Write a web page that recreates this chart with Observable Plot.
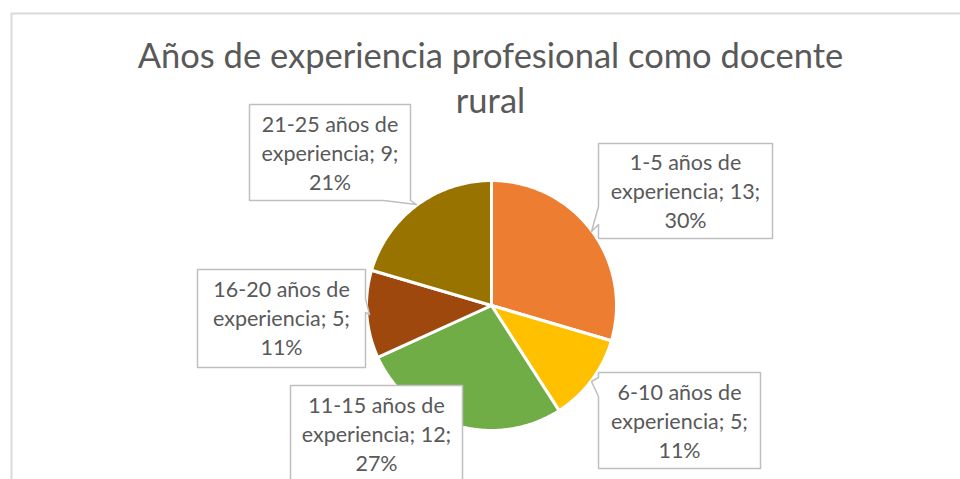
<!DOCTYPE html>
<html>
<head>
<meta charset="utf-8">
<script src="https://cdn.jsdelivr.net/npm/d3@7"></script>
<script src="https://cdn.jsdelivr.net/npm/@observablehq/plot@0.6"></script>
<style>
  html, body { margin: 0; padding: 0; background: #ffffff; }
  #chart svg { display: block; }
</style>
</head>
<body>
<div id="chart"></div>
<script>
// ---- Data ----
const categories = [
  "1-5 años de experiencia",
  "6-10 años de experiencia",
  "11-15 años de experiencia",
  "16-20 años de experiencia",
  "21-25 años de experiencia"
];
const values = [13, 5, 12, 5, 9];
const percentLabels = ["30%", "11%", "27%", "11%", "21%"];
const titleText = "Años de experiencia profesional como docente\nrural";

// ---- Style / layout ----
const colors = ["#ED7D31", "#FFC000", "#70AD47", "#9E480E", "#997300"];
const W = 960, H = 479;
const pie = {cx: 491, cy: 305, r: 125};
// callout boxes (pixel layout), in same order as categories
const callouts = [
  {x1: 598, y1: 143, x2: 772, y2: 238, notch: "left", a: 206, b: 224, tx: 591, ty: 231},
  {x1: 598, y1: 372, x2: 760, y2: 468, notch: "left", a: 377, b: 396, tx: 591, ty: 381},
  {x1: 290, y1: 385, x2: 462, y2: 482, notch: null},
  {x1: 197, y1: 269, x2: 365, y2: 367, notch: "right", a: 298, b: 312, tx: 369, ty: 314},
  {x1: 249, y1: 104, x2: 410, y2: 200, notch: "bottom", a: 383, b: 410, tx: 416, ty: 204}
];

// ---- Build slice polygons from values ----
const arcs = d3.pie().sort(null).startAngle(0).endAngle(2 * Math.PI)(values);
const slicePts = [];
arcs.forEach((a, i) => {
  slicePts.push({key: categories[i], x: pie.cx, y: pie.cy});
  const n = Math.max(2, Math.ceil((a.endAngle - a.startAngle) / (Math.PI / 180)));
  for (let k = 0; k <= n; k++) {
    const t = a.startAngle + (a.endAngle - a.startAngle) * k / n;
    slicePts.push({key: categories[i], x: pie.cx + pie.r * Math.sin(t), y: pie.cy - pie.r * Math.cos(t)});
  }
});

// ---- Callout polygons ----
const boxPts = [];
callouts.forEach((c, i) => {
  const k = categories[i];
  let pts;
  if (c.notch === "left") {
    pts = [[c.x1, c.y1], [c.x2, c.y1], [c.x2, c.y2], [c.x1, c.y2], [c.x1, c.b], [c.tx, c.ty], [c.x1, c.a]];
  } else if (c.notch === "right") {
    pts = [[c.x1, c.y1], [c.x2, c.y1], [c.x2, c.a], [c.tx, c.ty], [c.x2, c.b], [c.x2, c.y2], [c.x1, c.y2]];
  } else if (c.notch === "bottom") {
    pts = [[c.x1, c.y1], [c.x2, c.y1], [c.x2, c.y2], [c.tx, c.ty], [c.a, c.y2], [c.x1, c.y2]];
  } else {
    pts = [[c.x1, c.y1], [c.x2, c.y1], [c.x2, c.y2], [c.x1, c.y2]];
  }
  pts.forEach(([x, y]) => boxPts.push({key: k, x, y}));
});

const labels = categories.map((name, i) => ({
  text: name.replace(" de ", " de\n") + "; " + values[i] + ";\n" + percentLabels[i],
  x: (callouts[i].x1 + callouts[i].x2) / 2,
  y: (callouts[i].y1 + Math.min(callouts[i].y2, callouts[i].y1 + 96)) / 2 - 1
}));

const chart = Plot.plot({
  width: W,
  height: H,
  margin: 0,
  x: {domain: [0, W], range: [0, W], axis: null},
  y: {domain: [0, H], range: [0, H], axis: null},
  color: {domain: categories, range: colors},
  style: {fontFamily: "Lato, 'Open Sans', sans-serif", background: "#ffffff"},
  marks: [
    // chart border
    Plot.ruleX([11], {y1: 13, y2: H, stroke: "#d9d9d9", strokeWidth: 2}),
    Plot.ruleY([13], {x1: 11, x2: W, stroke: "#d9d9d9", strokeWidth: 2}),
    // title
    Plot.text([titleText], {
      x: 490, y: 76, text: d => d, fill: "#595959", fontSize: 34.5,
      lineHeight: 1.3, textAnchor: "middle", lineAnchor: "middle"
    }),
    // pie slices
    Plot.line(slicePts, {
      x: "x", y: "y", z: "key", fill: "key", stroke: "#ffffff",
      strokeWidth: 3, strokeLinejoin: "round", curve: "linear-closed"
    }),
    // callouts
    Plot.line(boxPts, {
      x: "x", y: "y", z: "key", fill: "#ffffff", stroke: "#bfbfbf",
      strokeWidth: 1.5, curve: "linear-closed"
    }),
    Plot.text(labels, {
      x: "x", y: "y", text: "text", fill: "#595959", fontSize: 21.5,
      lineHeight: 1.34, textAnchor: "middle", lineAnchor: "middle"
    })
  ]
});
document.getElementById("chart").appendChild(chart);
</script>
</body>
</html>
